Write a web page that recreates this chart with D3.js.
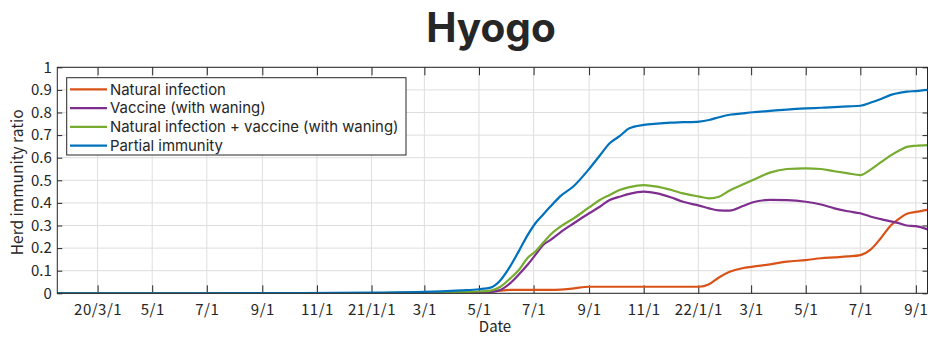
<!DOCTYPE html>
<html>
<head>
<meta charset="utf-8">
<script src="https://cdn.jsdelivr.net/npm/d3@7"></script>
<style>
  body { margin: 0; background: #fff; }
  svg { display: block; }
  text { font-family: "Noto Sans CJK JP", "Noto Sans", sans-serif; fill: #262626; }
  .legend text { font-family: Inter, "Noto Sans", sans-serif; }
  .title { font-family: Inter, "Noto Sans", sans-serif; }
</style>
</head>
<body>
<svg id="chart" width="928" height="337"></svg>
<script>
// Sample dates shared by all four series
const dates = [
  "2020-01-16", "2020-06-01", "2020-10-01", "2021-01-01", "2021-03-01", "2021-04-11",
  "2021-05-01", "2021-05-14", "2021-05-25", "2021-06-05", "2021-06-15", "2021-06-24",
  "2021-07-03", "2021-07-12", "2021-07-20", "2021-07-31", "2021-08-15", "2021-09-01",
  "2021-09-13", "2021-09-24", "2021-10-05", "2021-10-16", "2021-11-01", "2021-11-16",
  "2021-12-01", "2021-12-15", "2022-01-02", "2022-01-13", "2022-01-24", "2022-02-05",
  "2022-02-19", "2022-03-03", "2022-03-22", "2022-04-10", "2022-05-01", "2022-05-18",
  "2022-06-02", "2022-06-17", "2022-07-01", "2022-07-12", "2022-07-24", "2022-08-04",
  "2022-08-15", "2022-08-22", "2022-09-01", "2022-09-14"
];

const naturalInfection = [
  0, 0, 0, 0, 0, 0,
  0.003, 0.008, 0.012, 0.015, 0.015, 0.015,
  0.015, 0.015, 0.015, 0.016, 0.022, 0.029,
  0.029, 0.029, 0.029, 0.029, 0.029, 0.029,
  0.029, 0.029, 0.029, 0.040, 0.070, 0.095,
  0.111, 0.118, 0.128, 0.140, 0.147, 0.155,
  0.159, 0.163, 0.169, 0.192, 0.245, 0.300,
  0.335, 0.352, 0.360, 0.369
];

const vaccineWaning = [
  0, 0, 0, 0, 0, 0.002,
  0.003, 0.006, 0.015, 0.045, 0.085, 0.125,
  0.170, 0.215, 0.236, 0.270, 0.310, 0.354,
  0.383, 0.413, 0.427, 0.440, 0.450, 0.442,
  0.425, 0.405, 0.388, 0.376, 0.367, 0.366,
  0.385, 0.403, 0.413, 0.412, 0.405, 0.393,
  0.376, 0.363, 0.354, 0.340, 0.328, 0.318,
  0.308, 0.300, 0.297, 0.283
];

const infectionPlusVaccine = [
  0, 0, 0, 0.001, 0.003, 0.006,
  0.008, 0.012, 0.029, 0.066, 0.105, 0.155,
  0.185, 0.225, 0.260, 0.295, 0.332, 0.380,
  0.413, 0.435, 0.457, 0.470, 0.479, 0.472,
  0.458, 0.442, 0.428, 0.420, 0.427, 0.455,
  0.480, 0.501, 0.534, 0.550, 0.553, 0.550,
  0.540, 0.531, 0.523, 0.546, 0.580, 0.610,
  0.635, 0.648, 0.653, 0.656
];

const partialImmunity = [
  0, 0, 0.001, 0.003, 0.006, 0.013,
  0.018, 0.025, 0.058, 0.120, 0.190, 0.255,
  0.310, 0.350, 0.385, 0.430, 0.475, 0.550,
  0.610, 0.664, 0.695, 0.730, 0.745, 0.751,
  0.755, 0.757, 0.760, 0.767, 0.779, 0.790,
  0.796, 0.801, 0.807, 0.813, 0.818, 0.821,
  0.824, 0.827, 0.830, 0.843, 0.860, 0.878,
  0.888, 0.892, 0.895, 0.900
];

const seriesNames = [
  "Natural infection",
  "Vaccine (with waning)",
  "Natural infection + vaccine (with waning)",
  "Partial immunity"
];
const seriesColors = ["#D95319", "#7E2F8E", "#77AC30", "#0072BD"];

const tickDates = [
  "2020-03-01", "2020-05-01", "2020-07-01", "2020-09-01", "2020-11-01", "2021-01-01",
  "2021-03-01", "2021-05-01", "2021-07-01", "2021-09-01", "2021-11-01", "2022-01-01",
  "2022-03-01", "2022-05-01", "2022-07-01", "2022-09-01"
];
const tickLabels = [
  "20/3/1", "5/1", "7/1", "9/1", "11/1", "21/1/1",
  "3/1", "5/1", "7/1", "9/1", "11/1", "22/1/1",
  "3/1", "5/1", "7/1", "9/1"
];
const yTickValues = [0, 0.1, 0.2, 0.3, 0.4, 0.5, 0.6, 0.7, 0.8, 0.9, 1];

const parse = d3.utcParse("%Y-%m-%d");
const xDates = dates.map(parse);
const xTicks = tickDates.map(parse);
const labelOf = new Map(xTicks.map((d, i) => [+d, tickLabels[i]]));

const plot = { left: 57.3, right: 927.5, top: 67.3, bottom: 293.3 };

const svg = d3.select("#chart");

const x = d3.scaleUtc()
  .domain([xDates[0], xDates[xDates.length - 1]])
  .range([plot.left, plot.right]);
const y = d3.scaleLinear().domain([0, 1]).range([plot.bottom, plot.top]);

// Grid
const grid = svg.append("g").attr("stroke", "#dedede").attr("stroke-width", 1);
grid.selectAll("line.v").data(xTicks).join("line")
  .attr("x1", d => x(d)).attr("x2", d => x(d))
  .attr("y1", plot.top).attr("y2", plot.bottom);
grid.selectAll("line.h").data(yTickValues).join("line")
  .attr("x1", plot.left).attr("x2", plot.right)
  .attr("y1", d => y(d)).attr("y2", d => y(d));

// Axes (ticks drawn inward, box style)
const axisColor = "#262626";
const bottomAxis = svg.append("g")
  .attr("transform", `translate(0,${plot.bottom})`)
  .call(d3.axisBottom(x).tickValues(xTicks).tickSize(-8).tickPadding(11)
    .tickFormat(d => labelOf.get(+d)));
const topAxis = svg.append("g")
  .attr("transform", `translate(0,${plot.top})`)
  .call(d3.axisTop(x).tickValues(xTicks).tickSize(-8).tickFormat(""));
const leftAxis = svg.append("g")
  .attr("transform", `translate(${plot.left},0)`)
  .call(d3.axisLeft(y).tickValues(yTickValues).tickSize(-5).tickPadding(5.5)
    .tickFormat(d => d3.format("")(+d.toFixed(1))));
const rightAxis = svg.append("g")
  .attr("transform", `translate(${plot.right},0)`)
  .call(d3.axisRight(y).tickValues(yTickValues).tickSize(-5).tickFormat(""));

[bottomAxis, topAxis, leftAxis, rightAxis].forEach(g => {
  g.select(".domain").remove();
  g.selectAll(".tick line").attr("stroke", axisColor);
  g.selectAll(".tick text").attr("fill", axisColor)
    .style("font-size", "15px")
    .style("font-family", '"Noto Sans CJK JP", "Noto Sans", sans-serif');
});
bottomAxis.selectAll(".tick text").style("letter-spacing", "0.5px");

// Series lines
const seriesValues = [naturalInfection, vaccineWaning, infectionPlusVaccine, partialImmunity];
const line = d3.line()
  .x((d, i) => x(xDates[i]))
  .y(d => y(d))
  .curve(d3.curveMonotoneX);

svg.append("clipPath").attr("id", "plotClip")
  .append("rect")
  .attr("x", plot.left).attr("y", plot.top - 2)
  .attr("width", plot.right - plot.left).attr("height", plot.bottom - plot.top + 2);

svg.append("g").attr("clip-path", "url(#plotClip)")
  .selectAll("path").data(seriesValues).join("path")
  .attr("fill", "none")
  .attr("stroke", (d, i) => seriesColors[i])
  .attr("stroke-width", 2.2)
  .attr("stroke-linejoin", "round")
  .attr("d", line);

// Axes box
svg.append("rect")
  .attr("x", plot.left).attr("y", plot.top)
  .attr("width", plot.right - plot.left).attr("height", plot.bottom - plot.top)
  .attr("fill", "none").attr("stroke", axisColor).attr("stroke-width", 1);

// Legend
const legend = svg.append("g").attr("class", "legend");
legend.append("rect")
  .attr("x", 66.7).attr("y", 77.7).attr("width", 339.3).attr("height", 77.3)
  .attr("fill", "#fff").attr("stroke", axisColor).attr("stroke-width", 1);
const rows = legend.selectAll("g.row").data(seriesNames).join("g")
  .attr("transform", (d, i) => `translate(0,${89.3 + i * 18.8})`);
rows.append("line")
  .attr("x1", 70).attr("x2", 107).attr("y1", 0).attr("y2", 0)
  .attr("stroke", (d, i) => seriesColors[i]).attr("stroke-width", 2.2);
rows.append("text")
  .attr("x", 110).attr("y", 0).attr("dy", "0.36em")
  .style("font-size", "14.9px")
  .text(d => d);

// Axis titles
svg.append("text")
  .attr("transform", `translate(18,${(plot.top + plot.bottom) / 2 + 2}) rotate(-90)`)
  .attr("text-anchor", "middle").attr("dy", "0.35em")
  .style("font-size", "15.5px")
  .text("Herd immunity ratio");
svg.append("text")
  .attr("x", 495).attr("y", 327).attr("dy", "0.35em")
  .attr("text-anchor", "middle")
  .style("font-size", "15px")
  .text("Date");

// Title
svg.append("text")
  .attr("class", "title")
  .attr("x", 491).attr("y", 41.7)
  .attr("text-anchor", "middle")
  .style("font-size", "40.5px").style("font-weight", "bold")
  .attr("fill", "#000")
  .text("Hyogo");
</script>
</body>
</html>
